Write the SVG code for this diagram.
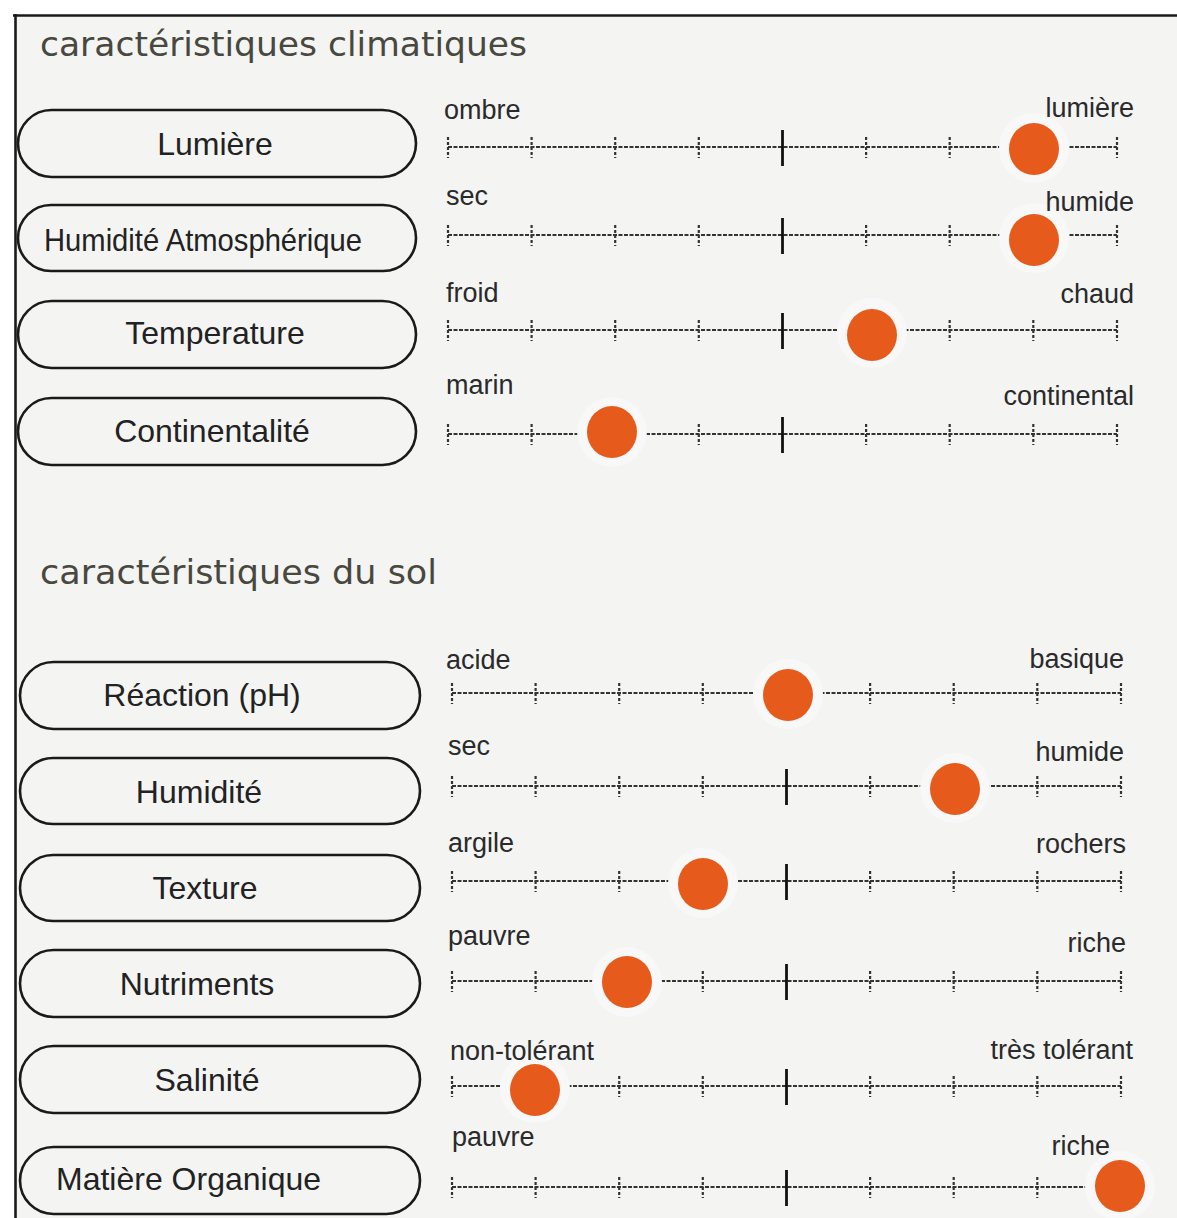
<svg xmlns="http://www.w3.org/2000/svg" xmlns:xlink="http://www.w3.org/1999/xlink" width="1177" height="1218" viewBox="0 0 1177 1218">
<style>
.title{font-family:"DejaVu Sans","Open Sans",sans-serif;font-size:33px;fill:#48483f}
.pill{fill:none;stroke:#1a1a1a;stroke-width:2.6}
.lab{font-family:"Liberation Sans",Arial,sans-serif;font-size:32px;fill:#222}
.end{font-family:"Liberation Sans",Arial,sans-serif;font-size:27px;fill:#2a2a2a}
.r{text-anchor:end}
.base{stroke:#333;stroke-width:2;stroke-dasharray:4 1.5}
.minor{stroke:#333;stroke-width:2.2;stroke-dasharray:3 2}
.major{stroke:#111;stroke-width:2.8}
.halo{fill:#f8f8f8}
.dot{fill:#e65a1c}
</style>
<defs>
<g id="scale">
<line class="base" x1="0" y1="0" x2="669" y2="0"/>
<line class="minor" x1="0" y1="-10" x2="0" y2="11"/>
<line class="minor" x1="83.6" y1="-10" x2="83.6" y2="11"/>
<line class="minor" x1="167.2" y1="-10" x2="167.2" y2="11"/>
<line class="minor" x1="250.8" y1="-10" x2="250.8" y2="11"/>
<line class="major" x1="334.5" y1="-17" x2="334.5" y2="19"/>
<line class="minor" x1="418.1" y1="-10" x2="418.1" y2="11"/>
<line class="minor" x1="501.7" y1="-10" x2="501.7" y2="11"/>
<line class="minor" x1="585.3" y1="-10" x2="585.3" y2="11"/>
<line class="minor" x1="669" y1="-10" x2="669" y2="11"/>
</g>
</defs>
<rect x="0" y="0" width="1177" height="1218" fill="#ffffff"/>
<rect x="15" y="15" width="1162" height="1203" fill="#f4f4f3"/>
<g id="frame">
<line x1="13" y1="15.5" x2="1177" y2="15.5" stroke="#1a1a1a" stroke-width="2.6"/>
<line x1="15.5" y1="14" x2="15.5" y2="1218" stroke="#1a1a1a" stroke-width="2.6"/>
</g>
<text class="title" x="40" y="56" textLength="487" lengthAdjust="spacingAndGlyphs">caractéristiques climatiques</text>
<text class="title" x="40" y="584" textLength="397" lengthAdjust="spacingAndGlyphs">caractéristiques du sol</text>

<g id="row-lumiere">
<rect class="pill" x="18" y="110" width="398" height="67" rx="33.5"/>
<use xlink:href="#scale" x="448" y="147"/>
<circle class="halo" cx="1034" cy="148" r="35"/>
<ellipse class="dot" cx="1034" cy="149" rx="25" ry="26"/>
<text class="lab" x="215" y="155" text-anchor="middle">Lumière</text>
<text class="end" x="444" y="119">ombre</text>
<text class="end r" x="1134" y="117">lumière</text>
</g>

<g id="row-humidite-atm">
<rect class="pill" x="18" y="205" width="398" height="66" rx="33"/>
<use xlink:href="#scale" x="448" y="235"/>
<circle class="halo" cx="1034" cy="238" r="35"/>
<ellipse class="dot" cx="1034" cy="240" rx="25" ry="26"/>
<text class="lab" x="44" y="251" font-size="26" textLength="318" lengthAdjust="spacingAndGlyphs">Humidité Atmosphérique</text>
<text class="end" x="446" y="205">sec</text>
<text class="end r" x="1134" y="211">humide</text>
</g>

<g id="row-temperature">
<rect class="pill" x="18" y="301" width="398" height="67" rx="33.5"/>
<use xlink:href="#scale" x="448" y="330"/>
<circle class="halo" cx="872" cy="333" r="35"/>
<ellipse class="dot" cx="872" cy="335" rx="25" ry="26"/>
<text class="lab" x="215" y="344" text-anchor="middle">Temperature</text>
<text class="end" x="446" y="302">froid</text>
<text class="end r" x="1134" y="303">chaud</text>
</g>

<g id="row-continentalite">
<rect class="pill" x="18" y="398" width="398" height="67" rx="33.5"/>
<use xlink:href="#scale" x="448" y="434"/>
<circle class="halo" cx="612" cy="432" r="35"/>
<ellipse class="dot" cx="612" cy="432" rx="25" ry="26"/>
<text class="lab" x="212" y="442" text-anchor="middle">Continentalité</text>
<text class="end" x="446" y="394">marin</text>
<text class="end r" x="1134" y="405">continental</text>
</g>

<g id="row-reaction">
<rect class="pill" x="20" y="662" width="400" height="67" rx="33.5"/>
<use xlink:href="#scale" x="452" y="693"/>
<circle class="halo" cx="788" cy="694" r="35"/>
<ellipse class="dot" cx="788" cy="695" rx="25" ry="26"/>
<text class="lab" x="202" y="706" text-anchor="middle">Réaction (pH)</text>
<text class="end" x="446" y="669">acide</text>
<text class="end r" x="1124" y="668">basique</text>
</g>

<g id="row-humidite">
<rect class="pill" x="20" y="758" width="400" height="66" rx="33"/>
<use xlink:href="#scale" x="452" y="786"/>
<circle class="halo" cx="955" cy="788" r="35"/>
<ellipse class="dot" cx="955" cy="789" rx="25" ry="26"/>
<text class="lab" x="199" y="803" text-anchor="middle">Humidité</text>
<text class="end" x="448" y="755">sec</text>
<text class="end r" x="1124" y="761">humide</text>
</g>

<g id="row-texture">
<rect class="pill" x="20" y="855" width="400" height="66" rx="33"/>
<use xlink:href="#scale" x="452" y="881"/>
<circle class="halo" cx="703" cy="883" r="35"/>
<ellipse class="dot" cx="703" cy="884" rx="25" ry="26"/>
<text class="lab" x="205" y="899" text-anchor="middle">Texture</text>
<text class="end" x="448" y="852">argile</text>
<text class="end r" x="1126" y="853">rochers</text>
</g>

<g id="row-nutriments">
<rect class="pill" x="20" y="950" width="400" height="67" rx="33.5"/>
<use xlink:href="#scale" x="452" y="981"/>
<circle class="halo" cx="627" cy="982" r="35"/>
<ellipse class="dot" cx="627" cy="982" rx="25" ry="26"/>
<text class="lab" x="197" y="995" text-anchor="middle">Nutriments</text>
<text class="end" x="448" y="945">pauvre</text>
<text class="end r" x="1126" y="952">riche</text>
</g>

<g id="row-salinite">
<rect class="pill" x="20" y="1046" width="400" height="67" rx="33.5"/>
<use xlink:href="#scale" x="452" y="1086"/>
<circle class="halo" cx="535" cy="1088" r="35"/>
<ellipse class="dot" cx="535" cy="1090" rx="25" ry="26"/>
<text class="lab" x="207" y="1091" text-anchor="middle">Salinité</text>
<text class="end" x="450" y="1060">non-tolérant</text>
<text class="end r" x="1133" y="1059">très tolérant</text>
</g>

<g id="row-matiere">
<rect class="pill" x="20" y="1147" width="400" height="67" rx="33.5"/>
<use xlink:href="#scale" x="452" y="1187"/>
<circle class="halo" cx="1120" cy="1186" r="35"/>
<ellipse class="dot" cx="1120" cy="1186" rx="25" ry="26"/>
<text class="lab" x="56" y="1190">Matière Organique</text>
<text class="end" x="452" y="1146">pauvre</text>
<text class="end r" x="1110" y="1155">riche</text>
</g>
</svg>
